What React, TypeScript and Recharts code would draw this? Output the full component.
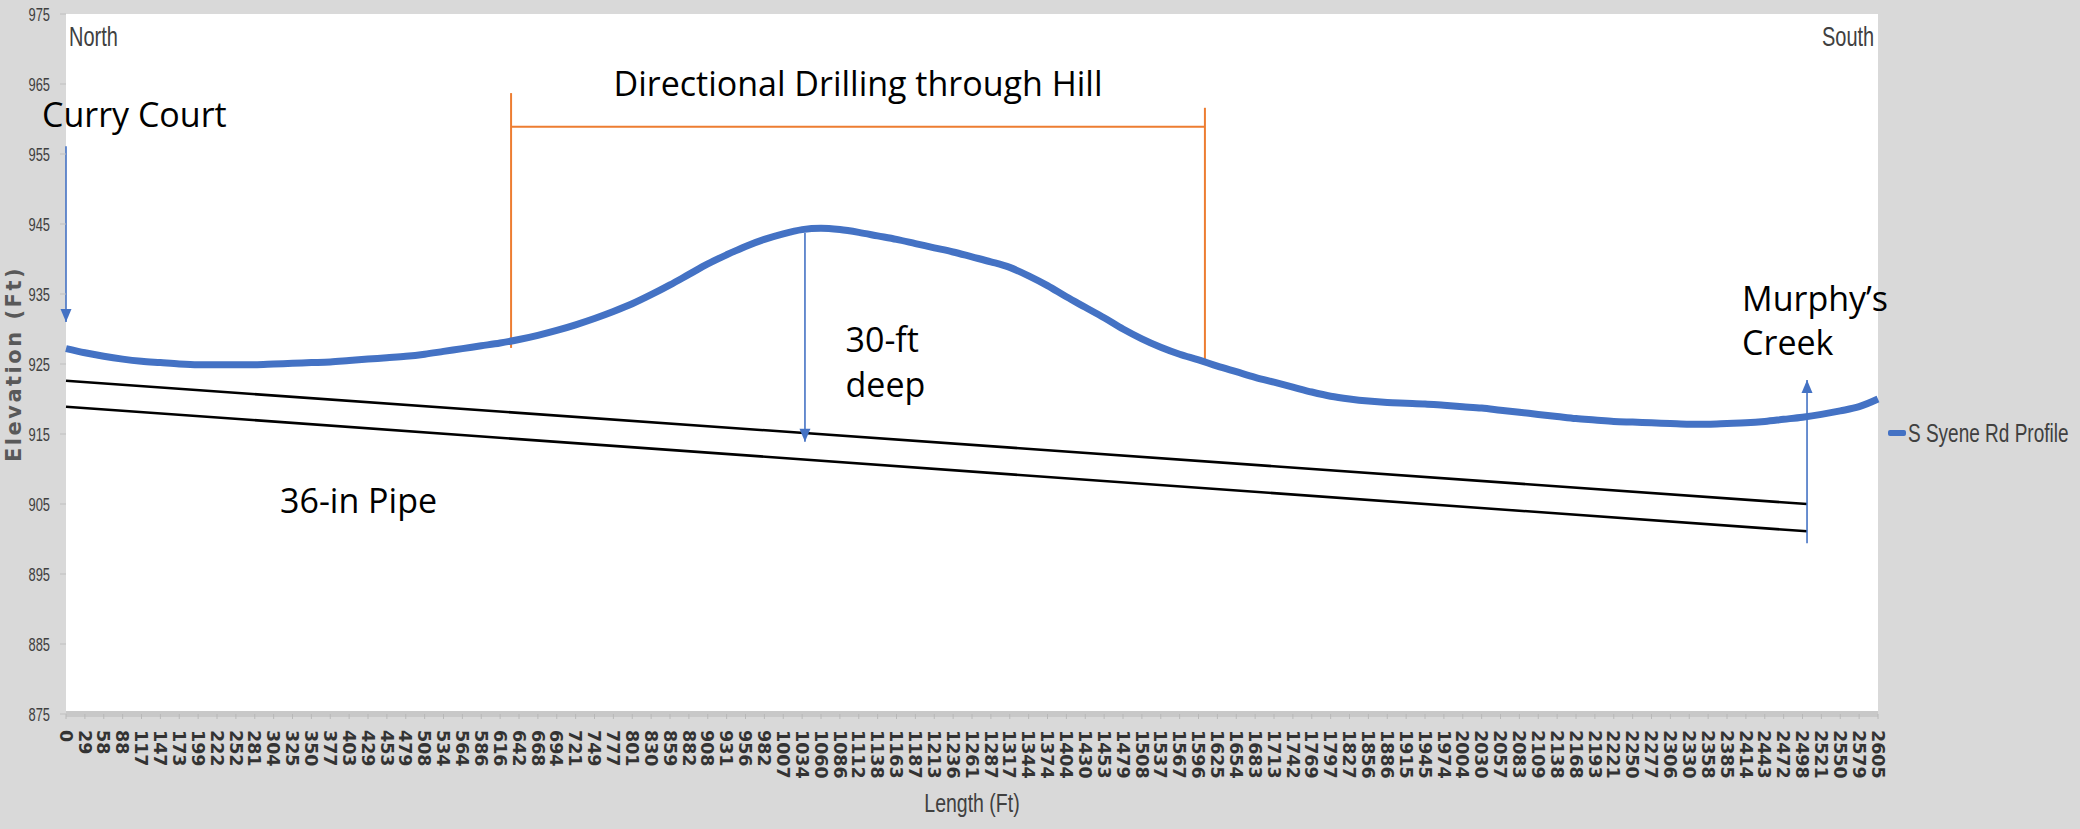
import * as React from 'react';
import {
  Legend,
  Line,
  LineChart,
  ReferenceArea,
  ReferenceDot,
  ReferenceLine,
  XAxis,
  YAxis,
} from 'recharts';

/* ---------------- data ---------------- */
const lengthLabels = [
  0, 29, 58, 88, 117, 147, 173, 199, 222, 252, 281, 304, 325, 350, 377, 403, 429, 453, 479, 508,
  534, 564, 586, 616, 642, 668, 694, 721, 749, 777, 801, 830, 859, 882, 908, 931, 956, 982, 1007,
  1034, 1060, 1086, 1112, 1138, 1163, 1187, 1213, 1236, 1261, 1287, 1317, 1344, 1374, 1404, 1430,
  1453, 1479, 1508, 1537, 1567, 1596, 1625, 1654, 1683, 1713, 1742, 1769, 1797, 1827, 1856, 1886,
  1915, 1945, 1974, 2004, 2030, 2057, 2083, 2109, 2138, 2168, 2193, 2221, 2250, 2277, 2306, 2330,
  2358, 2385, 2414, 2443, 2472, 2498, 2521, 2550, 2579, 2605,
];

const elevations = [
  927.2, 926.6, 926.1, 925.7, 925.4, 925.2, 925.0, 924.9, 924.9, 924.9, 924.9, 925.0, 925.1, 925.2,
  925.3, 925.5, 925.7, 925.9, 926.1, 926.4, 926.8, 927.2, 927.6, 928.0, 928.5, 929.1, 929.8, 930.6,
  931.5, 932.5, 933.6, 934.9, 936.3, 937.8, 939.3, 940.6, 941.8, 942.8, 943.6, 944.2, 944.4, 944.2,
  943.8, 943.3, 942.8, 942.2, 941.6, 941.0, 940.3, 939.6, 938.8, 937.6, 936.2, 934.6, 933.1, 931.6,
  930.0, 928.6, 927.4, 926.4, 925.6, 924.7, 923.9, 923.1, 922.4, 921.7, 921.0, 920.4, 920.0, 919.7,
  919.5, 919.4, 919.3, 919.1, 918.9, 918.7, 918.4, 918.1, 917.8, 917.5, 917.2, 917.0, 916.8, 916.7,
  916.6, 916.5, 916.4, 916.4, 916.5, 916.6, 916.8, 917.1, 917.4, 917.8, 918.3, 918.9, 920.0,
];

const elevationTicks = [875, 885, 895, 905, 915, 925, 935, 945, 955, 965, 975];

// pipe crown / invert (start + end), x in point index
const pipeTop = [
  { x: 0, y: 922.6 },
  { x: 92.24, y: 905.0 },
];
const pipeBottom = [
  { x: 0, y: 918.9 },
  { x: 92.24, y: 901.1 },
];

// drilling bracket
const bracketLeft = { x: 23.58, top: 963.7, bottom: 927.3 };
const bracketRight = { x: 60.34, top: 961.6, bottom: 925.6 };
const bracketY = 958.9;

const arrows = [
  { x: 0, from: 956.1, to: 931.0 },
  { x: 39.15, from: 943.7, to: 913.9 },
  { x: 92.24, from: 899.4, to: 922.7 },
];

const notes = [
  { text: 'Curry Court', x: -1.27, y: 958.8, anchor: 'start' },
  { text: 'Directional Drilling through Hill', x: 41.96, y: 963.3, anchor: 'middle' },
  { text: '30-ft', x: 41.3, y: 926.7, anchor: 'start' },
  { text: 'deep', x: 41.3, y: 920.3, anchor: 'start' },
  { text: '36-in Pipe', x: 11.34, y: 903.7, anchor: 'start' },
  { text: 'Murphy\u2019s', x: 88.8, y: 932.6, anchor: 'start' },
  { text: 'Creek', x: 88.8, y: 926.3, anchor: 'start' },
];

const corners = [
  { text: 'North', x: 0.16, y: 970.5, anchor: 'start' },
  { text: 'South', x: 95.8, y: 970.5, anchor: 'end' },
];

const data = lengthLabels.map((l, i) => ({ i, length: l, elev: elevations[i] }));
const tickIdx = lengthLabels.map((_, i) => i);

const BLUE = '#4472c4';
const ORANGE = '#ed7d31';
const AXIS_TEXT = '#404040';
const NARROW = '"Liberation Sans", Arial, sans-serif';
const NOTE_FONT = '"Open Sans", Lato, sans-serif';
const LEGEND_W = 190;

/* ---------------- ticks / labels ---------------- */
function YTick({ x, y, payload }: any) {
  return (
    <g transform={`translate(${x},${y})`}>
      <text
        transform="scale(0.68,1)"
        textAnchor="end"
        dy="0.36em"
        fontSize={19}
        fontFamily={NARROW}
        fill={AXIS_TEXT}
      >
        {payload.value}
      </text>
    </g>
  );
}

function XTick({ x, y, payload }: any) {
  return (
    <g transform={`translate(${x},${y}) rotate(90)`}>
      <text
        textAnchor="start"
        dy="0.36em"
        fontSize={17.5}
        fontWeight="bold"
        fontFamily='"DejaVu Sans", sans-serif'
        fill="#333"
      >
        {lengthLabels[payload.value]}
      </text>
    </g>
  );
}

function arrowHead(up: boolean) {
  return (p: any) => {
    const d = up ? 1 : -1;
    return (
      <polygon
        points={`${p.cx},${p.cy} ${p.cx - 5.5},${p.cy + d * 13} ${p.cx + 5.5},${p.cy + d * 13}`}
        fill={BLUE}
      />
    );
  };
}

function noteShape(text: string, anchor: string) {
  return (p: any) => (
    <text x={p.cx} y={p.cy} textAnchor={anchor} fontSize={34} fontFamily={NOTE_FONT} fill="#000">
      {text}
    </text>
  );
}

function cornerShape(text: string, anchor: string) {
  return (p: any) => (
    <g transform={`translate(${p.cx},${p.cy})`}>
      <text
        transform="scale(0.74,1)"
        textAnchor={anchor}
        fontSize={27}
        fontFamily={NARROW}
        fill={AXIS_TEXT}
      >
        {text}
      </text>
    </g>
  );
}

function LegendContent() {
  return (
    <div style={{ display: 'flex', alignItems: 'center', whiteSpace: 'nowrap', height: 30 }}>
      <span
        style={{
          display: 'inline-block',
          width: 18,
          height: 6,
          borderRadius: 2,
          background: BLUE,
          marginRight: 2,
          flex: 'none',
        }}
      />
      <span
        style={{
          display: 'inline-block',
          fontFamily: NARROW,
          fontSize: 25,
          lineHeight: '30px',
          color: AXIS_TEXT,
          transform: 'scaleX(0.76)',
          transformOrigin: 'left center',
        }}
      >
        S Syene Rd Profile
      </span>
    </div>
  );
}

export default function App() {
  return (
    <div
      style={{
        position: 'absolute',
        left: 0,
        top: 0,
        width: 2080,
        height: 829,
        background: '#d9d9d9',
        overflow: 'hidden',
      }}
    >
      <LineChart
        width={2080}
        height={829}
        data={data}
        margin={{ top: 14, right: 202 - LEGEND_W, left: 6, bottom: 15 }}
      >
        <ReferenceArea
          x1={0}
          x2={96}
          y1={875}
          y2={975}
          fill="#ffffff"
          fillOpacity={1}
          stroke="none"
          ifOverflow="visible"
        />
        <XAxis
          dataKey="i"
          type="number"
          domain={[0, 96]}
          ticks={tickIdx}
          interval={0}
          height={100}
          axisLine={{ stroke: '#c8c8c8', strokeWidth: 6 }}
          tickLine={{ stroke: '#b8b8b8' }}
          tickSize={5}
          tick={<XTick />}
          tickMargin={11}
          label={{
            content: ({ viewBox }: any) => (
              <g transform={`translate(${viewBox.x + viewBox.width / 2},${viewBox.y + 98})`}>
                <text
                  transform="scale(0.78,1)"
                  textAnchor="middle"
                  fontSize={25}
                  fontFamily={NARROW}
                  fill={AXIS_TEXT}
                >
                  Length (Ft)
                </text>
              </g>
            ),
          }}
        />
        <YAxis
          type="number"
          domain={[875, 975]}
          ticks={elevationTicks}
          interval={0}
          width={60}
          axisLine={false}
          tickLine={{ stroke: '#bfbfbf' }}
          tickSize={6}
          tickMargin={10}
          tick={<YTick />}
          label={{
            content: ({ viewBox }: any) => (
              <text
                transform={`translate(${viewBox.x + 15},${viewBox.y + viewBox.height / 2}) rotate(-90)`}
                textAnchor="middle"
                fontSize={21}
                fontWeight="bold"
                letterSpacing={2.5}
                fontFamily='"DejaVu Sans", sans-serif'
                fill="#595959"
              >
                Elevation (Ft)
              </text>
            ),
          }}
        />
        <Legend
          layout="horizontal"
          verticalAlign="middle"
          align="right"
          content={<LegendContent />}
          wrapperStyle={{ position: 'absolute', left: 1888, top: 418, width: LEGEND_W }}
        />

        {/* 36-in pipe */}
        <ReferenceLine segment={pipeTop} stroke="#000" strokeWidth={2.6} ifOverflow="visible" />
        <ReferenceLine segment={pipeBottom} stroke="#000" strokeWidth={2.6} ifOverflow="visible" />

        {/* drilling bracket */}
        <ReferenceLine
          segment={[
            { x: bracketLeft.x, y: bracketLeft.top },
            { x: bracketLeft.x, y: bracketLeft.bottom },
          ]}
          stroke={ORANGE}
          strokeWidth={2}
          ifOverflow="visible"
        />
        <ReferenceLine
          segment={[
            { x: bracketRight.x, y: bracketRight.top },
            { x: bracketRight.x, y: bracketRight.bottom },
          ]}
          stroke={ORANGE}
          strokeWidth={2}
          ifOverflow="visible"
        />
        <ReferenceLine
          segment={[
            { x: bracketLeft.x, y: bracketY },
            { x: bracketRight.x, y: bracketY },
          ]}
          stroke={ORANGE}
          strokeWidth={2}
          ifOverflow="visible"
        />

        <Line
          type="monotone"
          dataKey="elev"
          name="S Syene Rd Profile"
          stroke={BLUE}
          strokeWidth={7}
          dot={false}
          activeDot={false}
          isAnimationActive={false}
        />

        {/* arrows */}
        {arrows.map((a, k) => (
          <ReferenceLine
            key={`al${k}`}
            segment={[
              { x: a.x, y: a.from },
              { x: a.x, y: a.to },
            ]}
            stroke={BLUE}
            strokeWidth={1.6}
            ifOverflow="visible"
          />
        ))}
        {arrows.map((a, k) => (
          <ReferenceDot
            key={`ah${k}`}
            x={a.x}
            y={a.to}
            r={0}
            ifOverflow="visible"
            shape={arrowHead(a.to > a.from)}
          />
        ))}

        {notes.map((n, k) => (
          <ReferenceDot
            key={`n${k}`}
            x={n.x}
            y={n.y}
            r={0}
            ifOverflow="visible"
            shape={noteShape(n.text, n.anchor)}
          />
        ))}
        {corners.map((n, k) => (
          <ReferenceDot
            key={`c${k}`}
            x={n.x}
            y={n.y}
            r={0}
            ifOverflow="visible"
            shape={cornerShape(n.text, n.anchor)}
          />
        ))}
      </LineChart>
    </div>
  );
}
